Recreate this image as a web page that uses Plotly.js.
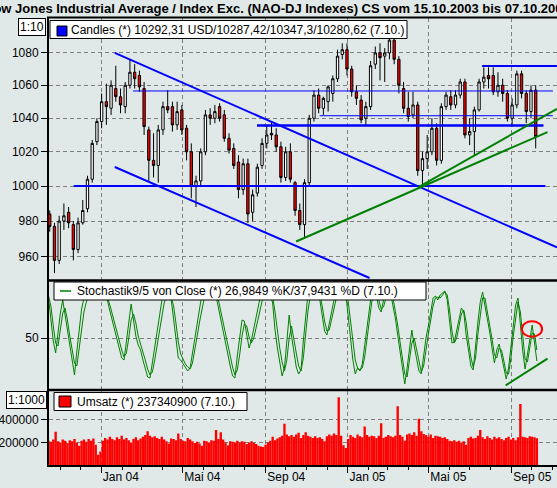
<!DOCTYPE html>
<html>
<head>
<meta charset="utf-8">
<script src="https://cdn.plot.ly/plotly-3.0.1.min.js"></script>
<style>html,body{margin:0;padding:0;overflow:hidden;background:#e0e8e8;}#chart{width:557px;height:488px;}</style>
</head>
<body>
<div id="chart"></div>
<script>
// Week starting dates (Monday) of the weekly candles
const weeks = ['2003-10-13','2003-10-20','2003-10-27','2003-11-03','2003-11-10','2003-11-17','2003-11-24','2003-12-01','2003-12-08','2003-12-15','2003-12-22','2003-12-29',
'2004-01-05','2004-01-12','2004-01-19','2004-01-26','2004-02-02','2004-02-09','2004-02-16','2004-02-23','2004-03-01','2004-03-08','2004-03-15','2004-03-22','2004-03-29',
'2004-04-05','2004-04-12','2004-04-19','2004-04-26','2004-05-03','2004-05-10','2004-05-17','2004-05-24','2004-05-31','2004-06-07','2004-06-14','2004-06-21','2004-06-28',
'2004-07-05','2004-07-12','2004-07-19','2004-07-26','2004-08-02','2004-08-09','2004-08-16','2004-08-23','2004-08-30','2004-09-06','2004-09-13','2004-09-20','2004-09-27',
'2004-10-04','2004-10-11','2004-10-18','2004-10-25','2004-11-01','2004-11-08','2004-11-15','2004-11-22','2004-11-29','2004-12-06','2004-12-13','2004-12-20','2004-12-27',
'2005-01-03','2005-01-10','2005-01-17','2005-01-24','2005-01-31','2005-02-07','2005-02-14','2005-02-21','2005-02-28','2005-03-07','2005-03-14','2005-03-21','2005-03-28',
'2005-04-04','2005-04-11','2005-04-18','2005-04-25','2005-05-02','2005-05-09','2005-05-16','2005-05-23','2005-05-30','2005-06-06','2005-06-13','2005-06-20','2005-06-27',
'2005-07-04','2005-07-11','2005-07-18','2005-07-25','2005-08-01','2005-08-08','2005-08-15','2005-08-22','2005-08-29','2005-09-05','2005-09-12','2005-09-19','2005-09-26','2005-10-03'];

// Weekly OHLC (index / 10)
const openP = [984,977,958,980,985,978,964,979,987,1004,1026,1038,1050,1046,1058,1053,1047,1060,1068,1066,1058,1033,1015,1012,1033,1047,1047,1036,1045,1034,1020,1000,1003,1020,1042,1040,1047,1042,1028,1022,1014,998,1013,985,996,1012,1025,1031,1030,1023,1005,1020,1002,986,978,1002,1040,1054,1046,1050,1055,1064,1079,1082,1070,1056,1051,1040,1047,1073,1080,1078,1080,1088,1076,1058,1046,1042,1048,1009,1016,1020,1034,1015,1047,1053,1048,1054,1062,1030,1032,1045,1062,1066,1066,1056,1060,1055,1040,1048,1067,1055,1044,1057];
const highP = [986,979,983,990,988,980,982,992,1006,1027,1040,1055,1061,1063,1072,1058,1062,1076,1073,1069,1062,1035,1031,1036,1050,1057,1050,1050,1048,1036,1025,1006,1022,1045,1046,1048,1049,1045,1031,1025,1018,1016,1016,998,1013,1028,1036,1038,1034,1026,1023,1025,1003,990,1004,1042,1057,1058,1053,1060,1066,1082,1086,1086,1072,1060,1054,1050,1075,1084,1086,1083,1090,1090,1078,1062,1056,1056,1050,1020,1030,1040,1037,1049,1056,1057,1057,1064,1064,1040,1047,1064,1071,1071,1071,1068,1064,1057,1052,1069,1069,1057,1060,1060];
const lowP = [974,951,956,975,976,958,962,978,985,1002,1024,1034,1036,1042,1050,1043,1043,1058,1058,1056,1030,1003,1005,1002,1030,1043,1032,1033,1030,1015,993,988,1000,1018,1036,1037,1038,1026,1019,1010,993,995,979,980,994,1010,1022,1027,1020,1002,1003,1002,983,975,971,1000,1038,1043,1042,1044,1050,1062,1076,1066,1053,1048,1037,1036,1045,1070,1063,1062,1076,1073,1055,1043,1038,1040,1006,999,1010,1018,1012,1013,1045,1045,1046,1052,1028,1024,1018,1044,1058,1058,1054,1053,1050,1038,1035,1046,1052,1037,1040,1022];
const closeP = [977,958,980,983,979,964,979,986,1004,1025,1038,1050,1047,1060,1053,1048,1060,1068,1064,1059,1035,1015,1012,1033,1047,1045,1036,1044,1033,1020,1000,1003,1020,1042,1040,1044,1040,1028,1021,1012,998,1013,984,995,1011,1025,1030,1030,1023,1005,1020,1004,986,978,1002,1040,1054,1046,1052,1059,1064,1078,1082,1070,1056,1052,1039,1047,1072,1080,1077,1080,1088,1076,1060,1046,1041,1048,1009,1016,1020,1034,1015,1047,1054,1048,1054,1062,1030,1032,1045,1062,1065,1064,1056,1060,1055,1040,1048,1067,1055,1044,1057,1029];

// Half-week values (two per week): Stochastik %K, %D and Umsatz
const stochK = [90,68,47,35,55,75,88,72,56,40,25,13,37,58,79,90,93,95,97,96,98,97,94,96,92,87,77,68,58,49,40,30,28,48,67,84,68,52,43,38,28,20,11,10,25,40,55,70,87,95,93,90,88,69,47,30,28,24,21,17,20,36,50,65,79,94,96,95,98,94,96,92,80,68,55,44,33,22,12,10,32,50,68,67,52,40,48,60,71,82,94,97,95,98,93,85,58,40,27,12,20,50,73,52,36,21,14,18,47,72,95,97,98,95,97,88,73,57,53,65,77,88,97,98,96,97,94,75,50,28,14,20,17,24,42,61,80,97,98,92,80,76,88,96,98,95,82,70,53,36,19,4,20,38,58,42,31,17,14,35,50,62,77,90,92,88,93,95,97,88,65,45,46,57,69,80,76,53,38,22,18,46,66,86,96,82,70,56,40,25,38,44,32,20,9,20,42,62,83,90,60,37,19,34,49,63,45,27];
const stochD = [92,82,62,45,42,58,75,80,68,52,38,25,22,38,58,76,86,91,94,96,96,97,95,95,94,90,83,74,65,55,46,38,31,35,50,68,74,65,52,43,36,28,19,13,16,28,42,57,72,85,92,92,91,82,65,46,34,28,24,21,19,25,37,52,66,80,90,95,96,96,95,94,88,77,65,53,42,31,21,13,18,33,52,64,62,51,45,50,61,72,84,92,95,96,96,91,76,57,40,26,17,28,50,62,50,35,22,17,30,55,78,92,96,96,96,93,82,67,57,58,69,80,90,96,97,96,95,87,67,45,28,20,18,20,31,49,68,86,95,95,88,79,81,90,96,96,90,78,63,46,29,14,11,26,45,50,38,25,16,22,40,54,68,82,90,91,90,93,96,93,78,57,45,50,62,74,78,66,47,31,21,30,54,75,90,90,77,64,49,33,30,40,38,27,15,14,30,52,72,86,76,50,29,26,40,55,54,38];
const volume = [215000,205000,225000,295000,210000,200000,225000,215000,195000,220000,210000,230000,200000,170000,215000,225000,205000,230000,215000,235000,180000,90000,120000,215000,240000,225000,250000,230000,220000,245000,230000,260000,225000,240000,220000,200000,230000,245000,220000,235000,250000,265000,300000,260000,245000,255000,240000,230000,250000,225000,210000,190000,235000,230000,220000,280000,230000,215000,210000,240000,225000,210000,195000,205000,190000,170000,215000,210000,200000,220000,215000,310000,230000,290000,225000,200000,175000,210000,205000,200000,215000,200000,210000,205000,185000,200000,210000,195000,185000,170000,165000,160000,180000,200000,215000,250000,220000,235000,245000,260000,365000,270000,255000,265000,250000,270000,285000,240000,265000,290000,260000,250000,240000,255000,240000,245000,230000,210000,255000,270000,260000,280000,265000,600000,260000,175000,150000,230000,265000,250000,240000,270000,255000,245000,340000,265000,250000,260000,255000,240000,260000,370000,240000,250000,265000,255000,245000,260000,520000,265000,250000,215000,270000,280000,265000,290000,260000,410000,300000,275000,265000,250000,270000,240000,260000,255000,250000,240000,245000,230000,215000,210000,220000,205000,215000,200000,210000,180000,240000,250000,235000,240000,260000,310000,245000,230000,255000,240000,225000,250000,235000,245000,230000,220000,240000,250000,225000,240000,220000,245000,540000,250000,245000,240000,255000,250000,245000,237000];

// Axis tick labels
const monthTicks = ['2004-01-01','2004-05-01','2004-09-01','2005-01-01','2005-05-01','2005-09-01'];
const monthLabels = ['Jan 04','Mai 04','Sep 04','Jan 05','Mai 05','Sep 05'];
const priceTicks = [960,980,1000,1020,1040,1060,1080];
const stochTicks = [50];
const volTicks = [200000,400000];

// ---- layout geometry (pixels) ----
const ML = 49, MT = 18, MB = 23, W = 557, H = 488;
const PW = W - ML, PH = H - MT - MB;
const px = x => (x - ML) / PW;
const py = y => (MT + PH - y) / PH;

const DAY = 864e5;
const iso = t => new Date(t).toISOString().slice(0, 19).replace('T', ' ');
const candleX = weeks.map(w => iso(Date.parse(w + 'T00:00:00Z') + 3.5 * DAY));
const halfX = [];
weeks.forEach(w => {
  const t = Date.parse(w + 'T00:00:00Z');
  halfX.push(iso(t + 1.75 * DAY));
  halfX.push(iso(t + 5.25 * DAY));
});

const traces = [
  {type: 'candlestick', x: candleX, open: openP, high: highP, low: lowP, close: closeP,
   xaxis: 'x', yaxis: 'y', whiskerwidth: 0,
   increasing: {line: {color: '#000000', width: 1}, fillcolor: '#ffffff'},
   decreasing: {line: {color: '#000000', width: 1}, fillcolor: '#ff0000'},
   showlegend: false, hoverinfo: 'skip'},
  {type: 'scatter', mode: 'lines', x: halfX, y: stochK, xaxis: 'x', yaxis: 'y2',
   line: {color: '#008000', width: 1}, showlegend: false, hoverinfo: 'skip'},
  {type: 'scatter', mode: 'lines', x: halfX, y: stochD, xaxis: 'x', yaxis: 'y2',
   line: {color: '#008000', width: 1}, showlegend: false, hoverinfo: 'skip'},
  {type: 'bar', x: halfX, y: volume, xaxis: 'x', yaxis: 'y3', width: 3.5 * DAY,
   marker: {color: '#ff0000', line: {width: 0}}, showlegend: false, hoverinfo: 'skip'}
];

const gridStyle = {showgrid: true, gridcolor: '#7f7f7f', griddash: '4px,3px', gridwidth: 1};
const yCommon = Object.assign({
  showline: true, linecolor: '#000000', linewidth: 2, ticks: 'outside', ticklen: 6,
  tickcolor: '#000000', tickfont: {size: 12, color: '#000000'}, zeroline: false,
  fixedrange: true, tickmode: 'array', anchor: 'x'
}, gridStyle);

const blue = '#0000ff', green = '#008000';
const ln = (x0, y0, x1, y1, color, width, yref) => ({type: 'line', xref: 'x', yref: yref || 'y',
  x0: x0, y0: y0, x1: x1, y1: y1, line: {color: color, width: width}, layer: 'above'});
const rectP = (x0, y0, x1, y1, fill, lw) => ({type: 'rect', xref: 'paper', yref: 'paper',
  x0: px(x0), x1: px(x1), y0: py(y1), y1: py(y0), fillcolor: fill,
  line: {color: '#000000', width: lw}, layer: 'above'});
const hlineP = (y, w) => ({type: 'line', xref: 'paper', yref: 'paper', x0: px(47), x1: 1.02,
  y0: py(y), y1: py(y), line: {color: '#000000', width: w}, layer: 'above'});

const shapes = [
  // trend lines in the price panel
  ln('2004-01-21', 1080, '2005-11-07', 965.2, blue, 2),
  ln('2004-01-21', 1011.1, '2005-02-02', 948.3, blue, 2),
  ln('2003-11-21', 1000, '2005-10-21', 1000, blue, 2),
  ln('2004-02-17', 1056.5, '2005-11-01', 1056.5, blue, 1),
  ln('2004-08-19', 1035.7, '2005-10-18', 1035.7, blue, 2.5),
  ln('2004-11-20', 1041.5, '2005-11-01', 1041.5, blue, 1),
  ln('2005-07-19', 1071.9, '2005-11-07', 1071.9, blue, 2),
  ln('2004-10-16', 968.5, '2005-10-24', 1031.7, green, 2),
  ln('2005-04-15', 999.3, '2005-11-07', 1045.7, green, 2),
  // stochastic panel marks
  ln('2005-08-23', 2.7, '2005-10-24', 29.3, green, 2, 'y2'),
  {type: 'circle', xref: 'x', yref: 'y2', x0: '2005-09-16', x1: '2005-10-16', y0: 51.3, y1: 66.7,
   line: {color: '#ff0000', width: 2}, layer: 'above'},
  // panel borders
  hlineP(17.5, 2), hlineP(280.5, 2.5), hlineP(390, 2.5),
  // legend boxes
  rectP(50, 20.5, 407, 38.5, '#ffffff', 1),
  rectP(57, 26, 67, 36, '#0000ff', 1),
  rectP(54, 282, 426, 300, '#ffffff', 1),
  {type: 'line', xref: 'paper', yref: 'paper', x0: px(60), x1: px(71), y0: py(291), y1: py(291),
   line: {color: green, width: 1.5}, layer: 'above'},
  rectP(54, 392.5, 247, 410.5, '#ffffff', 1),
  rectP(59, 396, 71, 407, '#ff0000', 1)
];

const txt = (x, y, s, opts) => Object.assign({xref: 'paper', yref: 'paper', x: px(x), y: py(y),
  xanchor: 'left', yanchor: 'middle', text: s, showarrow: false,
  font: {size: 12, color: '#000000'}}, opts || {});

const annotations = [
  txt(-18, 8, '<b>Dow Jones Industrial Average / Index Exc. (NAO-DJ Indexes) CS vom 15.10.2003 bis 07.10.2005</b>', {font: {size: 13, color: '#000000'}}),
  txt(69, 29.5, 'Candles (*) 10292,31 USD/10287,42/10347,3/10280,62 (7.10.)'),
  txt(75, 291, 'Stochastik9/5 von Close (*) 26,9849 %K/37,9431 %D (7.10.)'),
  txt(75, 401.5, 'Umsatz (*) 237340900 (7.10.)'),
  txt(31.5, 27, '1:10', {xanchor: 'center', bgcolor: '#ffffff', bordercolor: '#000000', borderwidth: 1, borderpad: 1}),
  txt(26, 400, '1:1000', {xanchor: 'center', bgcolor: '#ffffff', bordercolor: '#000000', borderwidth: 1, borderpad: 1})
];

const layout = {
  width: W, height: H,
  margin: {l: ML, r: 0, t: MT, b: MB, pad: 0},
  paper_bgcolor: '#e0e8e8', plot_bgcolor: '#e0e8e8',
  font: {family: 'Arial, Liberation Sans, sans-serif', size: 12, color: '#000000'},
  showlegend: false, hovermode: false, dragmode: false,
  xaxis: Object.assign({
    type: 'date', anchor: 'y3', domain: [0, 1],
    range: ['2003-10-15 09:36', '2005-11-07 02:24'],
    showline: true, linecolor: '#000000', linewidth: 2,
    tickmode: 'array', tickvals: monthTicks, ticktext: monthLabels,
    ticks: 'outside', ticklen: 6, tickcolor: '#000000',
    ticklabelposition: 'outside right',
    tickfont: {size: 12, color: '#000000'},
    minor: {dtick: 'M1', tick0: '2003-11-01', ticks: 'outside', ticklen: 3, tickcolor: '#000000', showgrid: false},
    rangeslider: {visible: false}, fixedrange: true, zeroline: false
  }, gridStyle),
  yaxis: Object.assign({}, yCommon, {type: 'log', domain: [py(280), 1],
    range: [Math.log10(947.2), Math.log10(1102)],
    tickvals: priceTicks, ticktext: priceTicks.map(String)}),
  yaxis2: Object.assign({}, yCommon, {domain: [py(389.5), py(281)], range: [-1.5, 107],
    tickvals: stochTicks, ticktext: stochTicks.map(String)}),
  yaxis3: Object.assign({}, yCommon, {domain: [0, py(390.5)], range: [0, 660000],
    tickvals: volTicks, ticktext: volTicks.map(String)}),
  shapes: shapes,
  annotations: annotations
};

Plotly.newPlot('chart', traces, layout, {staticPlot: true, displayModeBar: false});
</script>
</body>
</html>
